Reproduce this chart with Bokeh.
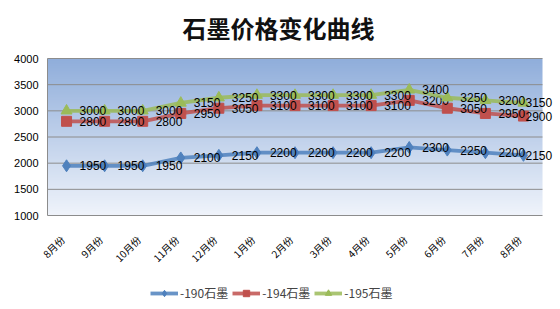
import numpy as np
from bokeh.plotting import figure
from bokeh.models import (ColumnDataSource, Label, Legend, LegendItem, Range1d)
from bokeh.core.properties import value
from bokeh.embed import file_html
from bokeh.resources import INLINE

months = ["8月份", "9月份", "10月份", "11月份", "12月份", "1月份", "2月份",
          "3月份", "4月份", "5月份", "6月份", "7月份", "8月份"]
g190 = [1950, 1950, 1950, 2100, 2150, 2200, 2200, 2200, 2200, 2300, 2250, 2200, 2150]
g194 = [2800, 2800, 2800, 2950, 3050, 3100, 3100, 3100, 3100, 3200, 3050, 2950, 2900]
g195 = [3000, 3000, 3000, 3150, 3250, 3300, 3300, 3300, 3300, 3400, 3250, 3200, 3150]
series_names = ["-190石墨", "-194石墨", "-195石墨"]
y_ticks = [1000, 1500, 2000, 2500, 3000, 3500, 4000]
title_text = "石墨价格变化曲线"

colors = ["#4F81BD", "#C0504D", "#9BBB59"]
markers = ["diamond", "square", "triangle"]
msizes = [12, 10, 11]

W, H = 560, 309
n = len(months)
xs = list(range(n))
x0, x1 = -0.5, n - 0.5
ymin, ymax = y_ticks[0], y_ticks[-1]

# plot area in canvas pixels: x 47..542, y 58..215 (from top)
pl, pr, pt, pb = 47.0, 542.0, 58.0, 215.0
ux = (x1 - x0) / (pr - pl)
uy = (ymax - ymin) / (pb - pt)
xr = Range1d(x0 - pl * ux, x0 + (W - pl) * ux)
yr = Range1d(ymax - (H - pt) * uy, ymax + pt * uy)

p = figure(width=W, height=H, output_backend="svg", toolbar_location=None,
           x_range=xr, y_range=yr, x_axis_location=None, y_axis_location=None,
           min_border=0)
p.outline_line_color = None
p.background_fill_color = "#ffffff"
p.border_fill_color = "#ffffff"
p.xgrid.visible = False
p.ygrid.visible = False

# gradient background for the plot area
nrows = 200
t = np.linspace(0, 1, nrows)[:, None]
top = np.array([144, 174, 219])
bot = np.array([240, 244, 251])
rgb = bot + (top - bot) * t
img = np.zeros((nrows, 1), dtype=np.uint32)
view = img.view(dtype=np.uint8).reshape((nrows, 1, 4))
view[:, 0, 0] = rgb[:, 0].astype(np.uint8)
view[:, 0, 1] = rgb[:, 1].astype(np.uint8)
view[:, 0, 2] = rgb[:, 2].astype(np.uint8)
view[:, 0, 3] = 255
p.image_rgba(image=[img], x=x0, y=ymin, dw=x1 - x0, dh=ymax - ymin, level="image")

# gridlines and left axis line
p.segment(x0=[x0] * len(y_ticks), x1=[x1] * len(y_ticks), y0=y_ticks, y1=y_ticks,
          line_color="#8C8C8C", line_width=1, level="underlay")
p.segment(x0=[x0], x1=[x0], y0=[ymin], y1=[ymax], line_color="#8C8C8C", line_width=1)

# y tick labels
p.text(x=[x0] * len(y_ticks), y=y_ticks, text=[str(v) for v in y_ticks],
       text_align="right", text_baseline="middle", x_offset=-9,
       text_font=value("Liberation Sans"), text_font_size="11px", text_color="#000000")

# category labels, rotated
p.text(x=xs, y=[ymin] * n, text=months, angle=np.pi / 4, text_align="right",
       text_baseline="middle", x_offset=-4, y_offset=22,
       text_font=value("Noto Sans CJK SC"), text_font_size="10px", text_color="#000000")

items = []
offsets = [13] * (n - 1) + [2]
for vals, name, c, mk, ms in zip([g190, g194, g195], series_names, colors, markers, msizes):
    src = ColumnDataSource(dict(x=xs, y=vals, lab=[str(v) for v in vals], xo=offsets))
    r1 = p.line("x", "y", source=src, line_color=c, line_width=3.8, line_alpha=0.85)
    r2 = p.scatter("x", "y", source=src, marker=mk, size=ms, fill_color=c, line_color=c)
    p.text("x", "y", text="lab", source=src, x_offset="xo", text_align="left",
           text_baseline="middle", text_font=value("Liberation Sans"),
           text_font_size="12px", text_color="#000000")
    items.append(LegendItem(label=name, renderers=[r1, r2]))

legend = Legend(items=items, orientation="horizontal", location=(150, 8),
                background_fill_alpha=0, border_line_color=None,
                label_text_font="Noto Sans CJK SC", label_text_font_size="12px",
                glyph_width=28, label_standoff=2, spacing=4, padding=0, margin=0,
                label_height=16, glyph_height=16)
p.add_layout(legend)

title = Label(x=W / 2 - 2, y=H - 27, x_units="screen", y_units="screen", text=title_text,
              text_align="center", text_baseline="middle", text_font="Noto Sans CJK SC",
              text_font_size="24px", text_font_style="bold", text_color="#111111")
p.add_layout(title)

html = file_html(p, INLINE)
border = ('<div style="position:fixed;left:0;top:0;width:556px;height:305px;'
          'border-left:1px solid #8c8c8c;border-top:1px solid #8c8c8c;'
          'border-right:2px solid #333333;border-bottom:2px solid #8c8c8c;'
          'pointer-events:none;z-index:10"></div>')
html = html.replace("<body>", "<body style=\"margin:0\">" + border, 1)
open("out.html", "w").write(html)
